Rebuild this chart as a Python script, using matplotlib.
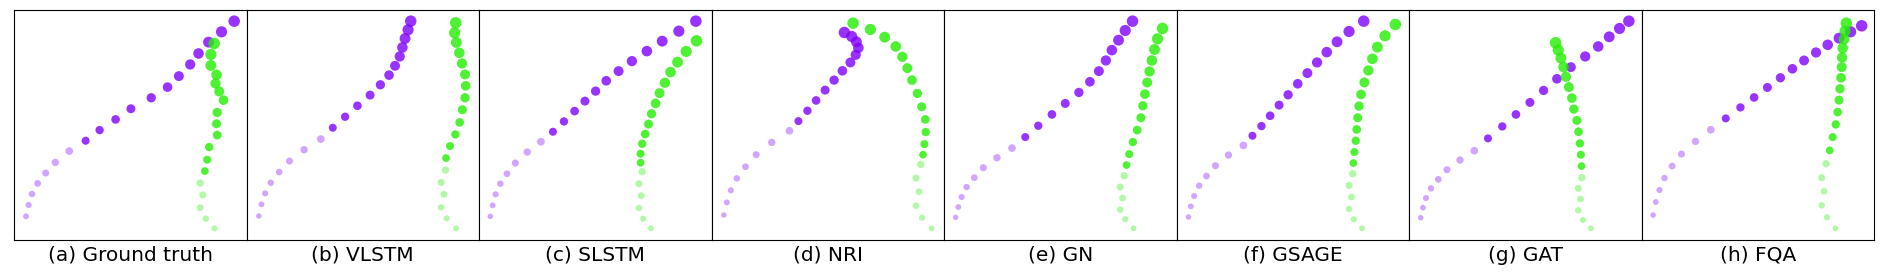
import numpy as np
import matplotlib
matplotlib.use("Agg")
import matplotlib.pyplot as plt

# titles of the 8 panels
titles = ["(a) Ground truth", "(b) VLSTM", "(c) SLSTM", "(d) NRI",
          "(e) GN", "(f) GSAGE", "(g) GAT", "(h) FQA"]

# observed (faint) and predicted (solid) positions, per panel, for both agents
# agent A (purple)
a_obs_x = [
    [3.6, 4.4, 5.4, 7.1, 9.5, 12.4, 16.6],
    [3.7, 4.5, 5.6, 7.3, 9.8, 12.9, 17.3, 22.3],
    [3.4, 4.1, 5.0, 6.4, 8.4, 10.9, 14.5, 18.6],
    [3.7, 4.6, 5.8, 7.6, 10.2, 13.4, 18.1, 23.4],
    [3.5, 4.3, 5.3, 6.8, 9.1, 11.8, 15.9, 20.4],
    [3.6, 4.3, 5.3, 6.8, 9.0, 11.7, 15.6, 20.1],
    [3.5, 4.2, 5.1, 6.6, 8.8, 11.4, 15.3, 19.6],
    [3.5, 4.3, 5.4, 6.9, 9.2, 12.0, 16.2, 20.8],
]
a_obs_y = [
    [7.1, 10.5, 13.8, 17.0, 20.1, 23.3, 26.7],
    [7.2, 10.7, 14.0, 17.2, 20.4, 23.7, 27.1, 30.3],
    [7.1, 10.4, 13.7, 16.9, 19.9, 23.1, 26.4, 29.5],
    [7.5, 11.3, 14.9, 18.5, 22.0, 25.6, 29.3, 32.8],
    [6.8, 9.9, 12.9, 15.9, 18.7, 21.7, 24.7, 27.6],
    [6.9, 10.1, 13.2, 16.3, 19.2, 22.3, 25.5, 28.4],
    [6.7, 9.7, 12.6, 15.5, 18.2, 21.1, 24.0, 26.8],
    [7.5, 11.4, 15.0, 18.6, 22.2, 25.8, 29.6, 33.1],
]
a_pred_x = [
    [21.5, 25.7, 30.5, 35.1, 41.2, 46.1, 49.5, 52.9, 55.4, 58.4, 62.3, 66.1],
    [25.9, 29.6, 33.3, 37.1, 40.2, 42.8, 44.6, 46.0, 46.8, 47.6, 48.5, 49.3],
    [22.2, 25.5, 28.7, 31.8, 35.0, 38.2, 41.9, 45.9, 50.4, 55.0, 60.0, 65.1],
    [26.1, 28.8, 31.4, 34.1, 36.8, 39.3, 41.7, 43.3, 44.1, 43.5, 42.1, 39.9],
    [24.4, 28.3, 32.4, 36.4, 40.5, 43.8, 46.5, 48.6, 50.4, 52.4, 54.4, 56.6],
    [22.8, 25.5, 28.1, 30.8, 33.5, 36.4, 39.3, 42.2, 45.1, 48.2, 51.8, 56.2],
    [23.7, 28.0, 32.1, 36.3, 40.4, 44.4, 48.6, 52.9, 56.8, 60.1, 63.2, 66.0],
    [25.3, 29.7, 33.8, 37.8, 41.7, 45.3, 48.8, 52.4, 55.9, 59.3, 62.8, 66.1],
]
a_pred_y = [
    [29.8, 33.0, 36.2, 39.4, 42.7, 45.9, 49.2, 52.7, 56.0, 59.4, 62.5, 65.7],
    [33.7, 37.0, 40.3, 43.5, 46.6, 49.5, 52.3, 55.1, 57.8, 60.5, 63.1, 65.7],
    [32.5, 35.6, 38.7, 41.7, 44.7, 47.8, 50.7, 53.7, 56.7, 59.7, 62.7, 65.7],
    [35.7, 38.8, 41.9, 45.0, 48.0, 50.8, 53.3, 55.6, 57.7, 59.5, 61.1, 62.3],
    [30.9, 34.3, 37.7, 41.0, 44.3, 47.5, 50.7, 53.9, 57.0, 60.0, 62.9, 65.7],
    [31.3, 34.2, 37.3, 40.5, 43.6, 46.9, 50.1, 53.3, 56.4, 59.5, 62.6, 65.7],
    [30.5, 34.1, 37.7, 41.3, 44.9, 48.4, 51.9, 55.1, 58.1, 61.0, 63.5, 65.7],
    [36.5, 39.8, 42.8, 45.8, 48.7, 51.4, 53.9, 56.3, 58.6, 60.6, 62.5, 64.3],
]

# agent B (green)
b_obs_x = [
    [60.2, 57.6, 55.9, 56.7, 55.9],
    [62.9, 60.1, 58.4, 59.3, 58.4, 59.8],
    [51.6, 49.3, 48.0, 48.7, 48.0, 49.0],
    [66.1, 63.2, 61.4, 62.3, 61.4, 62.8],
    [56.9, 54.4, 52.9, 53.6, 52.9, 54.1],
    [55.7, 53.2, 51.8, 52.5, 51.8, 52.9],
    [54.6, 52.2, 50.8, 51.5, 50.8, 51.9],
    [58.2, 55.7, 54.1, 54.8, 54.1, 55.4],
]
b_obs_y = [
    [3.5, 6.4, 9.7, 13.5, 17.1],
    [3.5, 6.5, 9.8, 13.7, 17.3, 21.0],
    [3.5, 6.4, 9.6, 13.3, 16.9, 20.5],
    [3.5, 6.7, 10.3, 14.5, 18.6, 22.7],
    [3.5, 6.2, 9.1, 12.6, 15.9, 19.3],
    [3.5, 6.2, 9.3, 12.9, 16.4, 19.9],
    [3.5, 6.0, 8.9, 12.3, 15.5, 18.7],
    [3.5, 6.8, 10.4, 14.6, 18.7, 22.9],
]
b_pred_x = [
    [57.3, 58.0, 58.6, 61.0, 60.8, 61.0, 62.9, 61.6, 60.5, 60.8, 59.1, 59.1, 60.1],
    [59.9, 61.1, 62.7, 64.0, 64.8, 65.6, 65.8, 65.6, 64.7, 63.9, 63.0, 62.5, 62.8],
    [48.5, 48.5, 49.0, 49.9, 50.9, 51.8, 53.0, 54.2, 55.8, 57.5, 59.6, 62.2, 65.3],
    [63.5, 63.9, 64.3, 64.2, 63.1, 61.8, 60.2, 58.8, 57.3, 55.3, 52.0, 47.7, 42.5],
    [54.8, 55.6, 56.7, 58.0, 59.1, 59.7, 60.3, 61.0, 61.7, 62.4, 63.2, 64.1, 65.6],
    [53.1, 53.4, 53.8, 54.1, 54.4, 54.8, 55.4, 56.4, 57.6, 58.8, 60.3, 62.6, 65.7],
    [51.8, 51.6, 51.3, 50.9, 50.4, 49.5, 48.9, 48.0, 47.1, 46.4, 45.6, 44.8, 44.0],
    [56.5, 57.4, 58.3, 58.9, 59.3, 59.6, 59.9, 60.1, 60.2, 60.4, 60.8, 61.1, 61.5],
]
b_pred_y = [
    [20.7, 24.1, 27.9, 31.5, 34.9, 38.3, 42.0, 44.6, 47.0, 49.6, 52.4, 55.7, 59.0],
    [24.6, 28.2, 31.7, 35.3, 39.1, 42.7, 46.3, 49.7, 53.0, 56.2, 59.3, 62.2, 65.2],
    [23.2, 25.9, 28.9, 31.8, 34.8, 37.9, 41.0, 44.1, 47.2, 50.4, 53.4, 56.6, 59.8],
    [25.6, 28.8, 32.4, 36.2, 40.0, 44.0, 48.0, 51.6, 55.0, 58.1, 60.9, 63.2, 65.1],
    [22.5, 25.8, 29.4, 33.0, 36.7, 40.3, 43.8, 47.3, 50.6, 53.9, 57.2, 60.4, 63.5],
    [23.1, 26.4, 29.8, 33.2, 36.7, 40.2, 43.7, 47.3, 50.9, 54.4, 57.9, 61.3, 64.7],
    [22.2, 25.6, 29.0, 32.5, 35.9, 39.3, 42.6, 45.9, 49.0, 51.9, 54.6, 57.0, 59.2],
    [26.9, 30.9, 34.7, 38.4, 42.0, 45.4, 48.7, 51.9, 54.8, 57.6, 60.3, 62.7, 65.1],
]

PURPLE = '#8000ff'
GREEN = '#22ee00'
N_STEPS = 20


def marker_sizes(n_obs, n_pred):
    # size grows with time step, last step is the biggest
    n = n_obs + n_pred
    idx = np.arange(n) + (N_STEPS - n)
    diam_px = 5.5 + (11.5 - 5.5) * idx / (N_STEPS - 1)
    s = (diam_px * 0.72) ** 2
    return s[:n_obs], s[n_obs:]


def draw_agent(ax, ox, oy, px, py, color):
    s_obs, s_pred = marker_sizes(len(ox), len(px))
    ax.scatter(ox, oy, s=s_obs, color=color, alpha=0.35, linewidths=0)
    ax.scatter(px, py, s=s_pred, color=color, alpha=0.8, linewidths=0)


fig, axes = plt.subplots(1, 8, figsize=(18.87, 2.76), dpi=100)
fig.subplots_adjust(left=14 / 1887, right=1874 / 1887, top=1 - 9.5 / 276,
                    bottom=1 - 240 / 276, wspace=0)

for i, ax in enumerate(axes):
    draw_agent(ax, a_obs_x[i], a_obs_y[i], a_pred_x[i], a_pred_y[i], PURPLE)
    draw_agent(ax, b_obs_x[i], b_obs_y[i], b_pred_x[i], b_pred_y[i], GREEN)
    ax.set_xlim(0, 69.8)
    ax.set_ylim(0, 69.2)
    ax.set_xticks([])
    ax.set_yticks([])
    ax.set_xlabel(titles[i], fontsize=14.5, labelpad=4)
    for sp in ax.spines.values():
        sp.set_linewidth(0.8)

fig.savefig("out.png", dpi=100)
